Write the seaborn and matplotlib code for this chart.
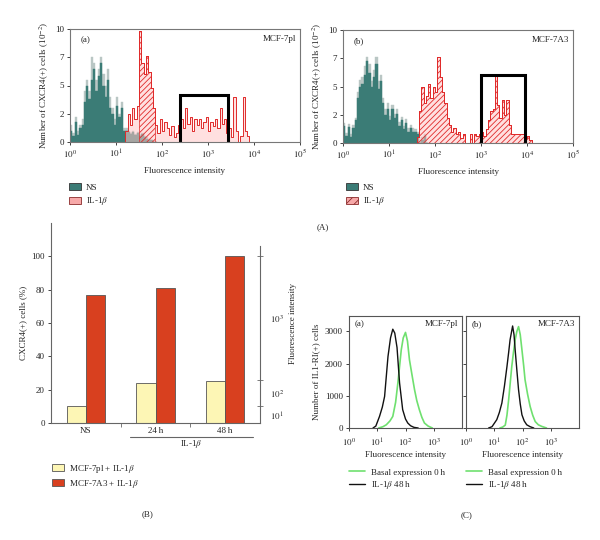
import numpy as np
import pandas as pd
import matplotlib
matplotlib.use("Agg")
import matplotlib.pyplot as plt
from matplotlib.patches import Patch
from matplotlib.lines import Line2D
import seaborn as sns

# ---------------- data ----------------
# Panel A: CXCR4 histograms, heights in 10^-2 cells, bins of 0.05 decade
BIN_W = 0.05
ns_7pl_start = 0.0
ns_7pl = [1.0, 0.5, 1.8, 0.6, 1.2, 1.5, 3.5, 5.0, 3.8, 5.5,
          6.5, 4.5, 5.8, 7.0, 5.0, 4.0, 5.5, 3.0, 2.5, 1.5,
          3.2, 2.2, 3.0, 1.0, 1.0, 0.9, 0.7, 0.9, 0.6, 0.8,
          0.5, 0.7, 0.4, 0.3, 0.2, 0.2, 0.0, 0.0]
ns_7pl_shadow = [1.5, 0.8, 2.2, 1.0, 1.5, 2.0, 4.5, 5.5, 4.5, 7.5,
                 7.0, 5.5, 6.5, 7.5, 6.0, 5.0, 6.5, 4.0, 3.0, 2.0,
                 4.0, 2.5, 3.5, 1.2, 1.2, 1.0, 0.8, 1.0, 0.7, 0.9,
                 0.6, 0.8, 0.5, 0.4, 0.3, 0.2, 0.0, 0.0]
il_7pl_start = 1.20
il_7pl = [1.0, 2.5, 1.5, 3.0, 2.0, 3.2, 9.8, 7.0, 6.0, 7.6,
          6.2, 4.8, 3.0, 1.5, 0.8, 2.0, 1.0, 1.8, 1.2, 0.6,
          1.4, 0.4, 0.8, 1.5, 2.0, 1.2, 3.0, 1.6, 2.2, 1.0,
          2.0, 1.5, 2.0, 1.2, 1.8, 2.2, 1.0, 1.8, 1.4, 2.0,
          1.2, 3.0, 1.6, 2.0, 0.8, 1.2, 0.4, 4.0, 1.0, 0.0,
          0.5, 4.0, 1.0, 0.5]
ns_7a3_start = 0.0
ns_7a3 = [1.5, 0.6, 1.4, 0.5, 1.3, 2.0, 4.0, 5.0, 5.2, 6.0,
          7.3, 6.2, 5.0, 5.8, 7.0, 4.8, 5.5, 3.5, 2.5, 3.0,
          2.0, 3.0, 2.2, 2.6, 1.5, 2.0, 1.2, 1.8, 1.0, 1.3,
          1.0, 1.0, 0.8, 0.0, 0.3, 0.6, 0.0]
ns_7a3_shadow = [1.8, 0.9, 1.7, 0.8, 1.6, 2.2, 4.5, 5.6, 5.8, 6.8,
                 7.6, 7.0, 5.5, 6.5, 7.6, 5.5, 6.0, 4.0, 3.0, 3.5,
                 2.4, 3.4, 2.6, 3.0, 1.9, 2.3, 1.5, 2.1, 1.3, 1.6,
                 1.3, 1.2, 1.0, 0.2, 0.5, 0.8, 0.0]
il_7a3_start = 1.60
il_7a3 = [0.5, 2.8, 5.0, 3.5, 4.2, 5.2, 4.0, 5.0, 4.5, 7.6,
          5.8, 4.5, 3.5, 2.2, 1.6, 1.0, 1.3, 0.8, 1.0, 0.4,
          0.8, 0.0, 0.0, 0.8, 0.0, 0.8, 0.6, 0.8, 1.0, 0.6,
          1.2, 2.0, 2.8, 3.0, 5.9, 3.4, 2.2, 3.8, 2.5, 3.8,
          1.6, 0.8, 0.8, 0.8, 0.8, 0.8, 0.8, 0.4, 0.6, 0.3]
# gates: log10 low, log10 high, height
gate_7pl = (2.39, 3.44, 4.2)
gate_7a3 = (3.00, 3.95, 6.0)
hatch_7pl = (1.50, 1.85)

# Panel B
groups = ["NS", "24\u2009h", "48\u2009h"]
pct_7pl = [10, 24, 25.5]
pct_7a3 = [77, 81, 100]

# Panel C: IL1-RI histograms (log10 intensity, cell counts)
c7pl_il_log = [0.85, 0.95, 1.08, 1.18, 1.26, 1.38, 1.47, 1.55, 1.62, 1.70,
               1.79, 1.90, 2.00, 2.08, 2.18, 2.30, 2.45]
c7pl_il = [0, 60, 360, 650, 980, 2220, 2800, 3070, 2950, 2500,
           1400, 570, 280, 155, 70, 20, 0]
c7pl_basal_log = [1.05, 1.20, 1.32, 1.45, 1.55, 1.65, 1.73, 1.80, 1.85, 1.92,
                  2.00, 2.07, 2.14, 2.23, 2.32, 2.40, 2.49, 2.58, 2.67, 2.80, 2.95]
c7pl_basal = [0, 40, 100, 220, 360, 800, 1400, 2000, 2430, 2800,
              2970, 2700, 2120, 1650, 1190, 850, 570, 330, 155, 60, 0]
c7a3_il_log = [0.80, 0.92, 1.09, 1.18, 1.27, 1.36, 1.45, 1.51, 1.56, 1.65,
               1.70, 1.74, 1.80, 1.86, 1.92, 1.98, 2.06, 2.15, 2.27, 2.40]
c7a3_il = [0, 40, 260, 480, 775, 1300, 1910, 2350, 2740, 3170,
           2900, 2430, 1800, 1190, 750, 410, 220, 100, 40, 0]
c7a3_basal_log = [1.20, 1.30, 1.39, 1.45, 1.51, 1.56, 1.62, 1.68, 1.74, 1.80,
                  1.86, 1.92, 1.98, 2.04, 2.09, 2.18, 2.27, 2.36, 2.45, 2.56,
                  2.68, 2.85]
c7a3_basal = [0, 30, 90, 400, 880, 1350, 1910, 2350, 2740, 3000,
              3150, 2900, 2430, 1950, 1500, 1050, 670, 400, 200, 100,
              50, 0]

# ---------------- style ----------------
sns.set_theme(style="ticks")
plt.rcParams["font.family"] = ["Liberation Serif", "DejaVu Serif"]
plt.rcParams["mathtext.fontset"] = "stix"
plt.rcParams["hatch.color"] = "#e02a2a"
plt.rcParams["hatch.linewidth"] = 0.6

FS = 6.5
TEAL = "#3b7c76"
SHADOW = "#b9c6c4"
RED = "#e02a2a"
PINK_FACE = (1.0, 0.78, 0.78, 0.55)
YELLOW = "#fdf6b5"
BAR_RED = "#d8401f"
GREEN = "#6fe06f"

W, H = 600, 540
fig = plt.figure(figsize=(6, 5.4), dpi=100)


def add_ax(x0, y0, x1, y1):
    # pixel box -> figure fractions
    return fig.add_axes([x0 / W, 1 - y1 / H, (x1 - x0) / W, (y1 - y0) / H])


def hist(ax, start, vals, **kw):
    vals = np.asarray(vals, float)
    n = len(vals)
    centers = start + BIN_W * (np.arange(n) + 0.5)
    sns.histplot(x=10 ** centers, weights=vals, bins=n,
                 binrange=(start, start + BIN_W * n), log_scale=True,
                 element="step", fill=True, ax=ax, **kw)


def style_box(ax, color="#777"):
    for s in ax.spines.values():
        s.set_visible(True)
        s.set_color(color)
        s.set_linewidth(0.8)
    ax.tick_params(direction="out", length=2.5, width=0.6, labelsize=FS,
                   colors="#222", pad=2)


decade_labels = [f"$10^{{{k}}}$" for k in range(6)]


def panel_a(ax, ns_start, ns, shadow, il_start, il, gate, tag, name, hatch_rng=None):
    hist(ax, ns_start, shadow, color=SHADOW, facecolor=SHADOW, edgecolor=SHADOW, linewidth=0.3)
    hist(ax, ns_start, ns, color=TEAL, facecolor=TEAL, edgecolor=TEAL, linewidth=0.3)
    hist(ax, il_start, il, color=RED, facecolor=PINK_FACE, edgecolor=RED, linewidth=0.7)
    if hatch_rng is None:
        hist(ax, il_start, il, color=RED, facecolor=(1, 1, 1, 0), edgecolor=RED,
             linewidth=0.5, hatch="//////")
    else:
        i0 = int(round((hatch_rng[0] - il_start) / BIN_W))
        i1 = int(round((hatch_rng[1] - il_start) / BIN_W))
        hist(ax, il_start + i0 * BIN_W, il[i0:i1], color=RED, facecolor=(1, 1, 1, 0),
             edgecolor=RED, linewidth=0.5, hatch="//////")
    g0, g1, gh = gate
    ax.plot([10 ** g0, 10 ** g0, 10 ** g1, 10 ** g1], [0, gh, gh, 0],
            color="black", lw=2.2, solid_joinstyle="miter")
    ax.set_xscale("log")
    ax.set_xlim(1, 1e5)
    ax.set_ylim(0, 10)
    ax.set_xticks([10 ** k for k in range(6)], decade_labels)
    ax.minorticks_off()
    ax.set_yticks([0, 2.5, 5, 7.5, 10], ["0", "2", "5", "7", "10"])
    ax.set_xlabel("Fluorescence intensity", fontsize=FS, labelpad=5)
    ax.set_ylabel("Number of CXCR4(+) cells (10$^{-2}$)", fontsize=FS, labelpad=3)
    ax.text(0.045, 0.9, tag, transform=ax.transAxes, fontsize=FS, va="center")
    ax.text(0.985, 0.91, name, transform=ax.transAxes, fontsize=FS,
            va="center", ha="right")
    style_box(ax)


# ---------------- panel A ----------------
axA1 = add_ax(70, 29, 300, 142)
panel_a(axA1, ns_7pl_start, ns_7pl, ns_7pl_shadow, il_7pl_start, il_7pl,
        gate_7pl, "(a)", "MCF-7pl", hatch_rng=hatch_7pl)
axA2 = add_ax(343, 30, 573, 143)
panel_a(axA2, ns_7a3_start, ns_7a3, ns_7a3_shadow, il_7a3_start, il_7a3,
        gate_7a3, "(b)", "MCF-7A3")

leg_kw = dict(loc="upper left", frameon=False, fontsize=FS, borderpad=0,
              handlelength=1.3, handleheight=0.8, handletextpad=0.6,
              labelspacing=0.4, borderaxespad=0)
fig.legend([Patch(facecolor=TEAL, edgecolor="#333", lw=0.6),
            Patch(facecolor="#f7a9a9", edgecolor="#8a2a2a", lw=0.6)],
           ["NS", "IL-1$\\beta$"], bbox_to_anchor=(69 / W, 1 - 183 / H), **leg_kw)
fig.legend([Patch(facecolor=TEAL, edgecolor="#333", lw=0.6),
            Patch(facecolor="#f7a9a9", edgecolor="#8a2a2a", lw=0.6, hatch="////")],
           ["NS", "IL-1$\\beta$"], bbox_to_anchor=(346 / W, 1 - 183 / H), **leg_kw)
fig.text(323 / W, 1 - 227 / H, "(A)", fontsize=FS, ha="center", va="center")

# ---------------- panel B ----------------
axB = add_ax(51, 223, 260, 423)
df = pd.DataFrame({
    "group": groups * 2,
    "series": ["MCF-7pl"] * 3 + ["MCF-7A3"] * 3,
    "pct": pct_7pl + pct_7a3,
})
sns.barplot(data=df, x="group", y="pct", hue="series", palette=[YELLOW, BAR_RED],
            width=0.55, saturation=1, edgecolor="#555", linewidth=0.6,
            errorbar=None, legend=False, ax=axB)
axB.set_xlim(-0.5, 2.5)
axB.set_ylim(0, 120)
axB.set_yticks([0, 20, 40, 60, 80, 100])
axB.set_xlabel("")
axB.set_ylabel("CXCR4(+) cells (%)", fontsize=FS, labelpad=3)
for s in ["top", "right"]:
    axB.spines[s].set_visible(False)
for s in ["left", "bottom"]:
    axB.spines[s].set_color("#666")
    axB.spines[s].set_linewidth(0.8)
axB.tick_params(axis="y", direction="out", length=2.5, width=0.6, labelsize=FS, pad=2)
axB.tick_params(axis="x", length=0, labelsize=FS, pad=3)
axB.set_xticks([0.5, 1.5], minor=True)
axB.tick_params(axis="x", which="minor", direction="out", length=3, width=0.6, color="#666")

axB2 = axB.twinx()
axB2.set_ylim(0, 120)
for s in ["top", "left", "bottom"]:
    axB2.spines[s].set_visible(False)
axB2.spines["right"].set_bounds(0, 106)
axB2.spines["right"].set_color("#666")
axB2.spines["right"].set_linewidth(0.8)
axB2.set_yticks([4.4, 18, 63], ["$10^{1}$", "$10^{2}$", "$10^{3}$"])
axB2.set_yticks([10, 26, 100], minor=True)
axB2.tick_params(axis="y", which="major", length=0, labelsize=FS, pad=7)
axB2.tick_params(axis="y", which="minor", direction="inout", length=5, width=0.6, color="#666")
axB2.set_ylabel("Fluorescence intensity", fontsize=FS, labelpad=4)

trans = matplotlib.transforms.blended_transform_factory(axB.transData, axB.transAxes)
axB.plot([0.63, 2.40], [-0.07, -0.07], color="#666", lw=0.8, transform=trans,
         clip_on=False)
axB.text(1.52, -0.105, "IL-1$\\beta$", transform=trans, fontsize=FS,
         ha="center", va="center")

fig.legend([Patch(facecolor=YELLOW, edgecolor="#555", lw=0.6),
            Patch(facecolor=BAR_RED, edgecolor="#555", lw=0.6)],
           ["MCF-7pl + IL-1$\\beta$", "MCF-7A3 + IL-1$\\beta$"],
           bbox_to_anchor=(52 / W, 1 - 463 / H), **dict(leg_kw, labelspacing=0.3))
fig.text(148 / W, 1 - 514 / H, "(B)", fontsize=FS, ha="center", va="center")

# ---------------- panel C ----------------
axC1 = add_ax(349, 316, 462, 428)
axC2 = add_ax(466, 316, 579, 428)
curves = [
    (axC1, c7pl_basal_log, c7pl_basal, c7pl_il_log, c7pl_il, "(a)", "MCF-7pl"),
    (axC2, c7a3_basal_log, c7a3_basal, c7a3_il_log, c7a3_il, "(b)", "MCF-7A3"),
]
for ax, bl, bv, il_log, ilv, tag, name in curves:
    sns.lineplot(x=10 ** np.array(bl), y=bv, color=GREEN, lw=1.2, ax=ax)
    sns.lineplot(x=10 ** np.array(il_log), y=ilv, color="#111", lw=1.0, ax=ax)
    ax.set_xscale("log")
    ax.set_xlim(1, 1e4)
    ax.set_ylim(0, 3480)
    ax.set_xticks([1, 10, 100, 1000], decade_labels[:4])
    ax.minorticks_off()
    ax.set_yticks([0, 1000, 2000, 3000])
    ax.text(0.05, 0.93, tag, transform=ax.transAxes, fontsize=FS, va="center")
    ax.text(0.965, 0.93, name, transform=ax.transAxes, fontsize=FS,
            va="center", ha="right")
    style_box(ax, color="#555")
    ax.tick_params(axis="x", pad=4)
    ax.set_xlabel("Fluorescence intensity", fontsize=FS, labelpad=1)
    ax.legend([Line2D([], [], color=GREEN, lw=1.2), Line2D([], [], color="#111", lw=1.0)],
              ["Basal expression 0\u2009h", "IL-1$\\beta$ 48\u2009h"],
              loc="upper left", bbox_to_anchor=(0.0, -0.36), frameon=False,
              fontsize=FS, borderpad=0, handlelength=1.8, handletextpad=0.6,
              labelspacing=0.3, borderaxespad=0)
axC1.set_ylabel("Number of IL1-RI(+) cells", fontsize=FS, labelpad=3)
axC2.set_ylabel("")
axC2.tick_params(axis="y", labelleft=False)
fig.text(467 / W, 1 - 515 / H, "(C)", fontsize=FS, ha="center", va="center")

fig.savefig("out.png", dpi=100, facecolor="white")
